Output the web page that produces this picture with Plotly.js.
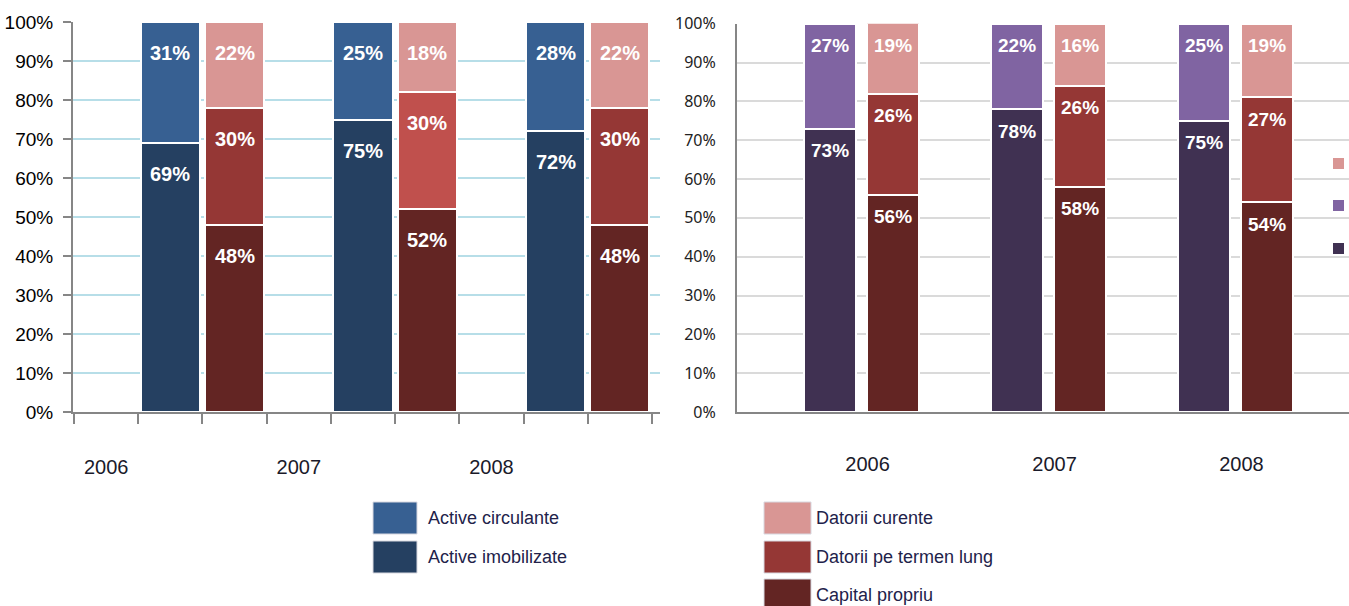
<!DOCTYPE html>
<html>
<head>
<meta charset="utf-8">
<script src="https://cdn.plot.ly/plotly-3.0.1.min.js"></script>
<style>html,body{margin:0;padding:0;background:#fff;}#chart{width:1349px;height:606px;}</style>
</head>
<body>
<div id="chart"></div>
<script>
// ---------- data ----------
const years = ['2006', '2007', '2008'];
// left panel
const activeImobilizate = [69, 75, 72];
const activeCirculante = [31, 25, 28];
const capitalPropriuL = [48, 52, 48];
const datoriiTermenLungL = [30, 30, 30];
const datoriiCurenteL = [22, 18, 22];
// right panel
const activeImobilizateR = [73, 78, 75];
const activeCirculanteR = [27, 22, 25];
const capitalPropriuR = [56, 58, 54];
const datoriiTermenLungR = [26, 26, 27];
const datoriiCurenteR = [19, 16, 19];

const legendLeft = ['Active circulante', 'Active imobilizate'];
const legendRight = ['Datorii curente', 'Datorii pe termen lung', 'Capital propriu'];

// ---------- styles ----------
const C = {
  circ: '#376092', imob: '#254061',
  dc: '#D99694', dtl: '#953735', dtlBright: '#C0504D', cap: '#632523',
  circR: '#8064A2', imobR: '#403152'
};
const W = 1349, H = 606;
const px = x => x / W;
const py = y => 1 - y / H;
const sans = 'Liberation Sans, Arial, sans-serif';

// left panel: 9 slots; year group i uses slots 3i+1 (assets) and 3i+2 (liabilities)
const xAssetsL = years.map((_, i) => 3 * i + 1);
const xLiabL = years.map((_, i) => 3 * i + 2);
const labelSlotsL = years.map((_, i) => 3 * i);
// right panel: numeric positions around year index
const xAssetsR = years.map((_, i) => i - 0.168);
const xLiabR = years.map((_, i) => i + 0.168);

const line = {color: '#ffffff', width: 2};
function bar(x, y, color, xa, ya, w, name) {
  return {type: 'bar', x: x, y: y, name: name, xaxis: xa, yaxis: ya, width: w,
    marker: {color: color, line: line}, hoverinfo: 'y'};
}

const wL = 0.92, wR = 0.278;
const traces = [
  bar(xAssetsL, activeImobilizate, C.imob, 'x', 'y', wL, 'Active imobilizate'),
  bar(xAssetsL, activeCirculante, C.circ, 'x', 'y', wL, 'Active circulante'),
  bar(xLiabL, capitalPropriuL, C.cap, 'x', 'y', wL, 'Capital propriu'),
  bar(xLiabL, datoriiTermenLungL, [C.dtl, C.dtlBright, C.dtl], 'x', 'y', wL, 'Datorii pe termen lung'),
  bar(xLiabL, datoriiCurenteL, C.dc, 'x', 'y', wL, 'Datorii curente'),
  bar(xAssetsR, activeImobilizateR, C.imobR, 'x2', 'y2', wR, 'Active imobilizate'),
  bar(xAssetsR, activeCirculanteR, C.circR, 'x2', 'y2', wR, 'Active circulante'),
  bar(xLiabR, capitalPropriuR, C.cap, 'x2', 'y2', wR, 'Capital propriu'),
  bar(xLiabR, datoriiTermenLungR, C.dtl, 'x2', 'y2', wR, 'Datorii pe termen lung'),
  bar(xLiabR, datoriiCurenteR, C.dc, 'x2', 'y2', wR, 'Datorii curente')
];

// ---------- value labels near the top of each segment ----------
const annotations = [];
function stackLabels(x, series, xa, ya, shift, font) {
  const base = x.map(() => 0);
  series.forEach(vals => {
    vals.forEach((v, i) => {
      base[i] += v;
      annotations.push({x: x[i], y: Math.min(base[i], 100), xref: xa, yref: ya,
        text: '<b>' + v + '%</b>', showarrow: false, yanchor: 'middle', yshift: -shift,
        font: font});
    });
  });
}
const fontL = {family: sans, size: 20, color: '#ffffff'};
const fontR = {family: sans, size: 19, color: '#ffffff'};
stackLabels(xAssetsL, [activeImobilizate, activeCirculante], 'x', 'y', 31, fontL);
stackLabels(xLiabL, [capitalPropriuL, datoriiTermenLungL, datoriiCurenteL], 'x', 'y', 31, fontL);
stackLabels(xAssetsR, [activeImobilizateR, activeCirculanteR], 'x2', 'y2', 22, fontR);
stackLabels(xLiabR, [capitalPropriuR, datoriiTermenLungR, datoriiCurenteR], 'x2', 'y2', 22, fontR);

// ---------- hand-drawn legends ----------
const shapes = [];
const legFont = {family: sans, size: 18, color: '#22224a'};
function legendItem(x0, x1, y0, y1, color, text, tx) {
  shapes.push({type: 'rect', xref: 'paper', yref: 'paper', x0: px(x0), x1: px(x1), y0: py(y0), y1: py(y1),
    fillcolor: color, line: {color: '#d8d8e0', width: 1}});
  annotations.push({xref: 'paper', yref: 'paper', x: px(tx), y: py((y0 + y1) / 2), xanchor: 'left',
    yanchor: 'middle', text: text, showarrow: false, font: legFont});
}
legendItem(373, 417, 502, 534, C.circ, legendLeft[0], 426);
legendItem(373, 417, 541, 573, C.imob, legendLeft[1], 426);
legendItem(764, 811, 502, 534, C.dc, legendRight[0], 814);
legendItem(764, 811, 541, 573, C.dtl, legendRight[1], 814);
legendItem(764, 811, 579, 611, C.cap, legendRight[2], 814);
// cut-off legend markers at the right edge
[[158, C.dc], [200, C.circR], [243, C.imobR]].forEach(([y, c]) => {
  shapes.push({type: 'rect', xref: 'paper', yref: 'paper', x0: px(1333), x1: px(1344), y0: py(y), y1: py(y + 11),
    fillcolor: c, line: {width: 0}});
});

const yearFont = {family: sans, size: 20, color: '#1a1a2a'};

const layout = {
  width: W, height: H,
  margin: {l: 0, r: 0, t: 0, b: 0},
  paper_bgcolor: '#ffffff', plot_bgcolor: 'rgba(0,0,0,0)',
  showlegend: false, barmode: 'stack',
  xaxis: {
    domain: [px(73), px(660)], range: [-0.516, 8.625], anchor: 'y',
    tickmode: 'array', tickvals: labelSlotsL, ticktext: years, ticks: '',
    ticklabelstandoff: 36, tickfont: yearFont,
    showline: true, linecolor: '#868686', linewidth: 2, showgrid: false, zeroline: false,
    minor: {tickmode: 'array', tickvals: [-0.5, 0.5, 1.5, 2.5, 3.5, 4.5, 5.5, 6.5, 7.5, 8.5],
      ticks: 'outside', ticklen: 10, tickcolor: '#868686', tickwidth: 2, showgrid: false},
    fixedrange: true
  },
  yaxis: {
    domain: [1 - 412 / H, 1 - 22 / H], range: [0, 100], anchor: 'x',
    dtick: 10, ticksuffix: '%', tickfont: {family: sans, size: 19, color: '#000'},
    ticks: 'outside', ticklen: 8, tickcolor: '#868686', tickwidth: 2, ticklabelstandoff: 6,
    showgrid: true, gridcolor: '#B7DEE8', gridwidth: 2,
    showline: true, linecolor: '#868686', linewidth: 2, zeroline: false, fixedrange: true
  },
  xaxis2: {
    domain: [px(737), 1], range: [-0.666, 2.607], anchor: 'y2',
    tickmode: 'array', tickvals: [0, 1, 2], ticktext: years, ticks: '',
    ticklabelstandoff: 33, ticklabelshift: 6, tickfont: yearFont,
    showline: true, linecolor: '#868686', linewidth: 2, showgrid: false, zeroline: false, fixedrange: true
  },
  yaxis2: {
    domain: [1 - 412 / H, 1 - 23.7 / H], range: [0, 100], anchor: 'x2',
    dtick: 10, ticksuffix: '%', tickfont: {family: 'Noto Sans, Open Sans, sans-serif', size: 16, color: '#222'},
    ticks: '', ticklabelstandoff: 16,
    showgrid: true, gridcolor: '#DADADA', gridwidth: 2,
    showline: true, linecolor: '#868686', linewidth: 2, zeroline: false, fixedrange: true
  },
  annotations: annotations,
  shapes: shapes
};

Plotly.newPlot('chart', traces, layout, {displayModeBar: false, staticPlot: true});
</script>
</body>
</html>
